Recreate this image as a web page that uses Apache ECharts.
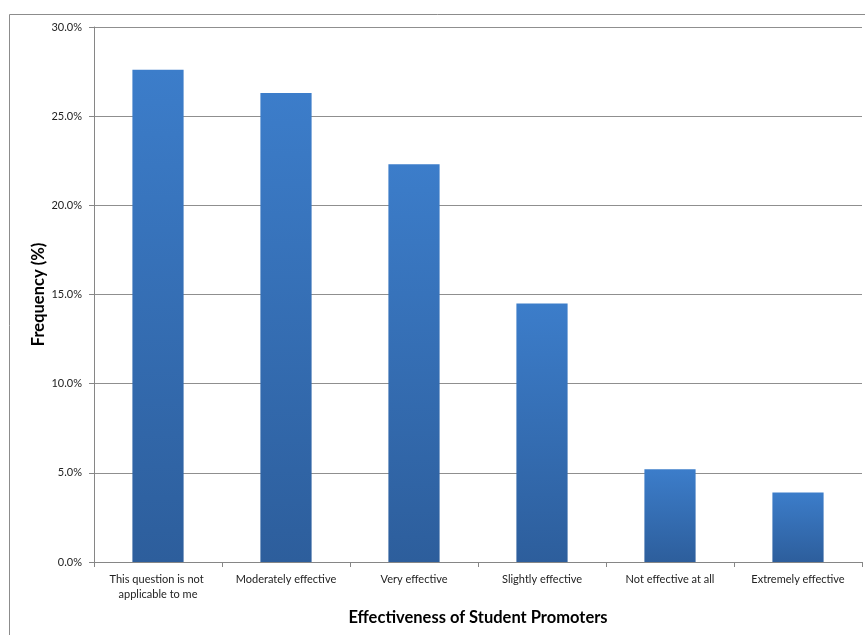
<!DOCTYPE html>
<html><head><meta charset="utf-8">
<script src="https://cdn.jsdelivr.net/npm/echarts@6/dist/echarts.min.js"></script>
<style>html,body{margin:0;padding:0;background:#fff}#c{width:865px;height:635px}</style>
</head><body><div id="c"></div>
<script>
const categories = ["This question is not applicable to me", "Moderately effective", "Very effective", "Slightly effective", "Not effective at all", "Extremely effective"];
const frequency = [27.6, 26.3, 22.3, 14.5, 5.2, 3.9];
const yTicks = [0, 5, 10, 15, 20, 25, 30];

const chart = echarts.init(document.getElementById('c'));
const font = 'Lato, "Open Sans", sans-serif';
chart.setOption({
  animation: false,
  backgroundColor: '#fff',
  graphic: [{
    type: 'rect', shape: {x: 9.5, y: 14.5, width: 880, height: 640},
    style: {fill: 'none', stroke: '#8c8c8c', lineWidth: 1}, silent: true
  }],
  grid: {left: 94, right: 3, top: 27, bottom: 73, containLabel: false},
  xAxis: {
    type: 'category', data: categories,
    name: 'Effectiveness of Student Promoters', nameLocation: 'middle', nameGap: 47,
    nameMoveOverlap: false,
    nameTextStyle: {fontFamily: font, fontWeight: 'bold', fontSize: 16.5, color: '#000'},
    axisLine: {lineStyle: {color: '#868686'}},
    axisTick: {show: true, length: 5, lineStyle: {color: '#868686'}},
    axisLabel: {fontFamily: font, fontSize: 11, color: '#222', margin: 10, interval: 0,
      width: 112, overflow: 'break', lineHeight: 15}
  },
  yAxis: {
    type: 'value', min: 0, max: 30, interval: 5,
    name: 'Frequency (%)', nameLocation: 'middle', nameGap: 47, nameRotate: 90,
    nameMoveOverlap: false,
    nameTextStyle: {fontFamily: font, fontWeight: 'bold', fontSize: 16.5, color: '#000'},
    axisLine: {show: true, lineStyle: {color: '#868686'}},
    axisTick: {show: true, length: 5, lineStyle: {color: '#868686'}},
    axisLabel: {fontFamily: font, fontSize: 11, color: '#222', margin: 12,
      formatter: v => yTicks.includes(v) ? v.toFixed(1) + '%' : ''},
    splitLine: {show: true, lineStyle: {color: '#8f8f8f'}}
  },
  series: [{
    type: 'bar', data: frequency, barWidth: '40%',
    itemStyle: {
      color: new echarts.graphic.LinearGradient(0, 0, 0, 1, [
        {offset: 0, color: '#3c7dca'}, {offset: 1, color: '#2d5e9c'}
      ])
    }
  }]
});
</script></body></html>
